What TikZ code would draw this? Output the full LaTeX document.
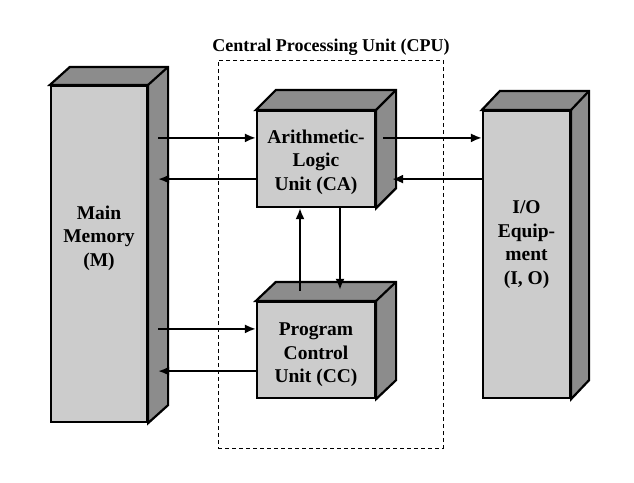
\documentclass[tikz,border=0pt]{standalone}
\usepackage{fontspec}
\setmainfont{Liberation Serif}
\usetikzlibrary{arrows.meta,calc}
\definecolor{frontgray}{HTML}{CCCCCC}
\definecolor{sidegray}{HTML}{8C8C8C}
\begin{document}
\begin{tikzpicture}[x=1pt,y=-1pt,
  front/.style={draw=black,line width=2.2pt,fill=frontgray,inner sep=0pt},
  lbl/.style={align=center,inner sep=0pt,font=\fontsize{19.5}{23.5}\selectfont\bfseries},
  face/.style={draw=black,line width=2.2pt,fill=sidegray,line join=miter},
  arr/.style={line width=2pt,-{Latex[length=11pt,width=9pt]}},
  cpubox/.style={draw=black,line width=1pt,dash pattern=on 4pt off 3pt},
  title/.style={font=\fontsize{18}{21}\selectfont\bfseries}]
\fill[white] (0,0) rectangle (634,482);
\useasboundingbox (0,0) rectangle (634,482);

% CPU dashed frame
\node[cpubox,minimum width=225pt,minimum height=388pt,inner sep=0pt] (cpu) at (330.5,254) {};
\node[title] (cput) at (331,47) {Central Processing Unit (CPU)};

% front faces
\node[front,minimum width=96pt,minimum height=336pt] (mem) at (99,254) {};
\node[front,minimum width=118pt,minimum height=96pt] (alu) at (316,159) {};
\node[front,minimum width=118pt,minimum height=96pt] (pcu) at (316,350) {};
\node[front,minimum width=87pt,minimum height=287pt] (io) at (526.5,254.5) {};

% depth faces
\foreach \n/\dx/\dy in {mem/20/18, alu/20/20, pcu/20/19, io/18/19}{
  \draw[face] (\n.north west) -- ++(\dx,-\dy) -- ($(\n.north east)+(\dx,-\dy)$)
     -- ($(\n.south east)+(\dx,-\dy)$) -- (\n.south east) -- (\n.north east) -- cycle;
  \draw[face] (\n.north east) -- ++(\dx,-\dy);
}

% labels
\node[lbl] (memt) at ([yshift=16pt]mem.center) {Main\\Memory\\(M)};
\node[lbl] (alut) at ([yshift=-3pt]alu.center) {Arithmetic-\\Logic\\Unit (CA)};
\node[lbl] (pcut) at ([yshift=-5pt]pcu.center) {Program\\Control\\Unit (CC)};
\node[lbl] (iot) at ([yshift=10pt]io.center) {I/O\\Equip-\\ment\\(I, O)};

% horizontal connectors
\coordinate (aluL1) at ([yshift=-28pt]alu.north west);
\coordinate (aluL2) at ([yshift=29pt]alu.south west);
\coordinate (aluR1) at ([xshift=7pt,yshift=-28pt]alu.north east);
\coordinate (aluR2) at ([xshift=16pt,yshift=29pt]alu.south east);
\coordinate (pcuL1) at ([yshift=-28pt]pcu.north west);
\coordinate (pcuL2) at ([yshift=28pt]pcu.south west);
\coordinate (memR) at ([xshift=10pt]mem.east);

\draw[arr] (memR |- aluL1) -- (aluL1);
\draw[arr] (aluL2) -- (memR |- aluL2);
\draw[arr] (aluR1) -- (io.west |- aluR1);
\draw[arr] (io.west |- aluR2) -- (aluR2);
\draw[arr] (memR |- pcuL1) -- (pcuL1);
\draw[arr] (pcuL2) -- (memR |- pcuL2);

% vertical connectors
\coordinate (pcuTop) at ([yshift=10pt]pcu.north);
\draw[arr] ([xshift=-16pt]pcuTop) -- ([xshift=-16pt]alu.south);
\draw[arr] ([xshift=24pt]alu.south) -- ([xshift=24pt,yshift=1pt]pcuTop);
\end{tikzpicture}
\end{document}
